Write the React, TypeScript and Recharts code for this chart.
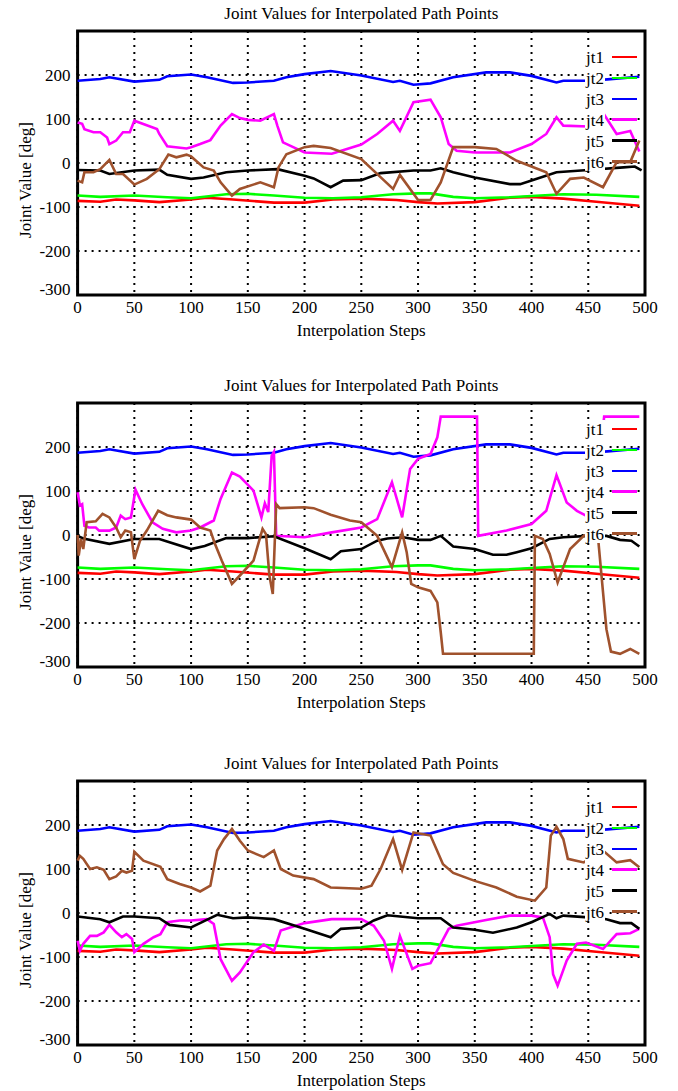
import React from 'react'
import { LineChart, Line, XAxis, YAxis, CartesianGrid, ReferenceArea } from 'recharts'

// Three gnuplot-style panels: joint angles along an interpolated path.
// Each series is a list of [step, degrees].

type Pt = [number, number]

const stepTicks = [0, 50, 100, 150, 200, 250, 300, 350, 400, 450, 500]
const degTicks = [-300, -200, -100, 0, 100, 200]
const names = ['jt1', 'jt2', 'jt3', 'jt4', 'jt5', 'jt6']
const colors = ['#ff0000', '#00ff00', '#0000ff', '#ff00ff', '#000000', '#a0522d']

// jt1..jt3 are the same in all three panels
const jt1: Pt[] = [[0, -86], [20, -88], [34, -83], [50, -85], [72, -89], [100, -83], [114, -79], [137, -83], [173, -90], [200, -90], [225, -83], [250, -81], [281, -84], [300, -89], [317, -92], [350, -89], [381, -79], [400, -77], [428, -81], [457, -88], [495, -97]]
const jt2: Pt[] = [[0, -74], [20, -77], [50, -74], [79, -78], [100, -80], [131, -71], [150, -70], [173, -74], [200, -79], [225, -80], [250, -78], [278, -71], [300, -69], [311, -69], [331, -77], [350, -80], [381, -78], [400, -75], [428, -71], [457, -72], [495, -77]]
const jt3: Pt[] = [[0, 187], [20, 191], [28, 195], [50, 185], [72, 189], [79, 197], [100, 201], [114, 195], [137, 182], [150, 183], [173, 187], [184, 195], [200, 202], [223, 209], [250, 199], [278, 184], [284, 187], [296, 178], [311, 181], [331, 195], [360, 206], [381, 206], [400, 198], [422, 183], [428, 187], [450, 187], [467, 190], [495, 196]]

// panel 1
const p1Jt4: Pt[] = [[0, 92], [4, 89], [6, 77], [14, 70], [20, 70], [26, 58], [28, 43], [34, 51], [40, 70], [46, 70], [50, 96], [70, 77], [72, 66], [79, 38], [96, 33], [100, 36], [108, 43], [117, 52], [126, 85], [136, 111], [143, 102], [150, 98], [161, 96], [173, 111], [176, 85], [181, 47], [190, 36], [200, 24], [224, 21], [250, 42], [264, 66], [278, 96], [284, 73], [296, 138], [311, 144], [320, 104], [327, 43], [334, 28], [350, 24], [381, 24], [400, 43], [413, 66], [422, 104], [428, 85], [450, 83], [463, 114], [475, 66], [487, 73], [495, 26]]
const p1Jt5: Pt[] = [[0, -16], [20, -17], [28, -25], [50, -17], [72, -15], [79, -27], [100, -36], [111, -33], [131, -21], [150, -17], [176, -14], [200, -29], [208, -35], [223, -55], [234, -40], [250, -39], [267, -23], [296, -17], [311, -17], [320, -12], [331, -21], [350, -33], [381, -48], [390, -48], [400, -40], [422, -21], [450, -16], [481, -10], [491, -8], [497, -17]]
const p1Jt6: Pt[] = [[0, -40], [4, -44], [6, -21], [14, -21], [20, -14], [28, 7], [34, -25], [40, -25], [50, -49], [61, -36], [72, -14], [80, 19], [87, 13], [96, 19], [100, 15], [111, -10], [120, -17], [126, -44], [136, -74], [143, -59], [161, -44], [173, -55], [177, -10], [184, 20], [200, 36], [208, 39], [223, 34], [250, 9], [278, -59], [284, -27], [300, -84], [311, -84], [320, -44], [331, 36], [350, 36], [369, 32], [387, 5], [413, -21], [422, -70], [434, -36], [446, -33], [463, -55], [475, 2], [487, 2], [495, 51]]

// panel 2
const p2Jt4: Pt[] = [[0, 97], [2, 67], [4, 70], [6, 21], [10, 17], [16, 17], [19, 10], [28, 10], [34, 17], [38, 44], [42, 36], [47, 40], [51, 103], [57, 70], [66, 29], [75, 14], [87, 6], [100, 10], [108, 17], [114, 25], [120, 33], [126, 82], [136, 142], [143, 133], [155, 101], [162, 40], [165, 72], [168, 52], [171, 180], [173, 189], [175, -2], [200, -5], [224, 6], [250, 17], [264, 36], [277, 120], [286, 40], [293, 150], [300, 173], [311, 184], [317, 222], [320, 269], [352, 269], [353, -2], [378, 10], [400, 25], [413, 55], [422, 136], [431, 74], [440, 55], [448, 44], [454, 48], [459, 142], [464, 269], [495, 269]]
const p2Jt5: Pt[] = [[0, -2], [5, -8], [28, -20], [50, -9], [72, -9], [100, -32], [112, -25], [131, -7], [150, -7], [173, -3], [200, -30], [223, -55], [232, -37], [250, -32], [264, -13], [273, -8], [287, -5], [300, -11], [311, -11], [320, -2], [331, -26], [350, -32], [366, -45], [378, -45], [387, -39], [400, -30], [416, -9], [428, -5], [450, -2], [466, -2], [478, -11], [488, -13], [495, -26]]
const p2Jt6: Pt[] = [[0, 0], [1, -47], [3, -9], [5, -32], [8, 29], [16, 31], [22, 48], [28, 40], [34, 17], [38, -5], [42, 10], [47, 6], [50, -55], [55, -13], [61, 10], [71, 55], [79, 45], [87, 40], [100, 35], [108, 17], [117, 10], [121, -20], [127, -58], [136, -111], [143, -92], [155, -58], [163, 14], [166, 2], [169, -92], [172, -134], [175, 70], [178, 61], [200, 63], [208, 61], [223, 46], [240, 33], [250, 29], [264, -2], [277, -73], [286, 6], [290, -39], [294, -111], [300, -119], [311, -127], [317, -153], [320, -221], [322, -270], [402, -270], [403, -2], [410, -9], [416, -43], [423, -108], [428, -73], [434, -32], [446, -2], [454, 6], [459, -17], [463, -130], [466, -214], [470, -265], [478, -270], [487, -259], [495, -270]]

// panel 3
const p3Jt4: Pt[] = [[0, -63], [2, -86], [5, -70], [11, -52], [17, -52], [23, -44], [28, -27], [34, -44], [39, -55], [43, -48], [48, -59], [50, -89], [58, -70], [67, -55], [73, -48], [79, -21], [90, -17], [100, -17], [114, -14], [120, -25], [126, -105], [136, -154], [143, -135], [155, -89], [164, -72], [173, -86], [179, -40], [200, -23], [224, -14], [250, -14], [261, -29], [270, -63], [277, -127], [284, -52], [295, -127], [300, -120], [311, -114], [320, -70], [327, -36], [334, -29], [360, -16], [381, -6], [400, -6], [410, -10], [416, -55], [419, -139], [423, -165], [431, -108], [440, -70], [448, -67], [463, -82], [475, -48], [487, -46], [495, -36]]
const p3Jt5: Pt[] = [[0, -8], [20, -14], [28, -21], [40, -8], [50, -8], [72, -12], [81, -27], [100, -33], [111, -19], [123, -4], [137, -12], [150, -10], [173, -14], [200, -36], [223, -55], [232, -36], [250, -33], [261, -17], [273, -5], [300, -12], [320, -12], [331, -33], [350, -38], [366, -45], [387, -33], [400, -21], [416, -2], [422, -12], [428, -6], [450, -10], [466, -14], [478, -23], [488, -23], [495, -36]]
const p3Jt6: Pt[] = [[0, 119], [2, 130], [5, 123], [11, 100], [17, 104], [23, 98], [28, 77], [34, 83], [39, 96], [43, 92], [48, 96], [50, 139], [58, 119], [73, 105], [79, 77], [90, 66], [100, 58], [108, 49], [117, 62], [123, 142], [129, 168], [136, 191], [143, 164], [150, 142], [164, 127], [173, 142], [179, 100], [190, 85], [208, 77], [223, 58], [250, 55], [259, 62], [267, 100], [278, 168], [286, 98], [296, 183], [311, 176], [322, 111], [331, 91], [350, 73], [369, 58], [387, 37], [403, 28], [413, 58], [417, 176], [422, 196], [428, 168], [432, 123], [446, 115], [463, 142], [475, 115], [487, 120], [495, 104]]

const panels = [
  { top: 0, series: [jt1, jt2, jt3, p1Jt4, p1Jt5, p1Jt6] },
  { top: 372, series: [jt1, jt2, jt3, p2Jt4, p2Jt5, p2Jt6] },
  { top: 750, series: [jt1, jt2, jt3, p3Jt4, p3Jt5, p3Jt6] },
]

const FONT = '"Liberation Serif", "Times New Roman", serif'
const W = 678
const H = 345
const PLOT_L = 77.6
const PLOT_R = 645
const PLOT_T = 31
const ROW0 = 26
const ROW_GAP = 20.9

const toPts = (a: Pt[]) => a.map(([s, v]) => ({ s, v }))
const tick = { fill: '#000', fontSize: 17, fontFamily: FONT }

// gnuplot lifts the bottom label (-300) a little off the frame
function DegTick(props: any) {
  const { x, y, payload } = props
  const lift = payload.value === -300 ? -6 : 0
  return (
    <text x={x} y={y + lift} dy="0.355em" textAnchor="end" fill="#000" fontSize={17} fontFamily={FONT}>
      {payload.value}
    </text>
  )
}

function Panel({ top, series }: { top: number; series: Pt[][] }) {
  const text: React.CSSProperties = { position: 'absolute', fontFamily: FONT, fontSize: 17, color: '#000', whiteSpace: 'nowrap', lineHeight: 1 }
  return (
    <div style={{ position: 'absolute', left: 0, top, width: W, height: H }}>
      <LineChart width={W} height={H} margin={{ top: PLOT_T, right: W - PLOT_R, left: PLOT_L - 60, bottom: 20 }}>
        <CartesianGrid stroke="#000" strokeWidth={2} strokeDasharray="2 5" />
        <XAxis type="number" dataKey="s" domain={[0, 500]} ticks={stepTicks} tick={tick}
          tickLine={false} axisLine={false} tickSize={0} tickMargin={6} height={30} interval={0} />
        <YAxis type="number" domain={[-300, 300]} ticks={degTicks} tick={<DegTick />}
          tickLine={false} axisLine={false} tickSize={0} tickMargin={7} width={60} interval={0} allowDataOverflow />
        {series.map((d, i) => (
          <Line key={names[i]} data={toPts(d)} dataKey="v" type="linear" stroke={colors[i]} strokeWidth={2.6}
            dot={false} isAnimationActive={false} />
        ))}
        <ReferenceArea x1={0} x2={500} y1={-300} y2={300} fill="none" stroke="#000" strokeWidth={3} />
      </LineChart>

      <div style={{ ...text, left: (PLOT_L + PLOT_R) / 2, top: 13, transform: 'translate(-50%, -50%)' }}>
        Joint Values for Interpolated Path Points
      </div>
      <div style={{ ...text, left: (PLOT_L + PLOT_R) / 2, top: 330, transform: 'translate(-50%, -50%)' }}>
        Interpolation Steps
      </div>
      <div style={{ ...text, left: 25, top: 180, transform: 'translate(-50%, -50%) rotate(-90deg)' }}>
        Joint Value [deg]
      </div>

      {/* key: opaque label column, line samples on top of the data */}
      <div style={{ position: 'absolute', left: 585, top: PLOT_T + ROW0 - 9, width: 20, height: ROW_GAP * 5 + 18, background: '#fff' }} />
      {names.map((n, i) => {
        const y = PLOT_T + ROW0 + i * ROW_GAP
        return (
          <React.Fragment key={n}>
            <div style={{ ...text, right: W - 604, top: y, transform: 'translateY(-50%)' }}>{n}</div>
            <div style={{ position: 'absolute', left: 612, width: 25, top: y - 1.3, height: 2.6, background: colors[i] }} />
          </React.Fragment>
        )
      })}
    </div>
  )
}

export default function App() {
  return (
    <div style={{ position: 'absolute', left: 0, top: 0, width: W, height: 1091, background: '#fff', overflow: 'hidden' }}>
      {panels.map((p, i) => (
        <Panel key={i} top={p.top} series={p.series} />
      ))}
    </div>
  )
}
